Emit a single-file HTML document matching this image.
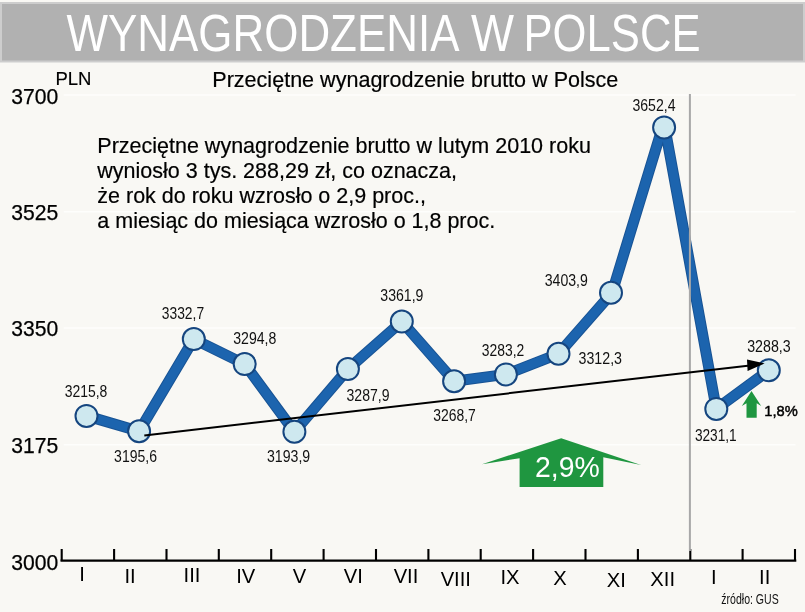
<!DOCTYPE html>
<html><head><meta charset="utf-8"><title>Wynagrodzenia w Polsce</title>
<style>html,body{margin:0;padding:0;background:#f9f8f4}svg{display:block;will-change:transform}text{font-family:"Liberation Sans",sans-serif}</style></head><body>
<svg width="805" height="612" viewBox="0 0 805 612">
<rect width="805" height="612" fill="#f9f8f4"/>
<rect x="0" y="2" width="805" height="60.5" fill="#cdcdcd"/>
<rect x="2" y="4" width="801" height="56.5" fill="#b1b1b1"/>
<g font-size="52.3" fill="#fff"><text x="66.5" y="51.4" textLength="393" lengthAdjust="spacingAndGlyphs">WYNAGRODZENIA</text><text x="471" y="51.4" textLength="43" lengthAdjust="spacingAndGlyphs">W</text><text x="523.5" y="51.4" textLength="177" lengthAdjust="spacingAndGlyphs">POLSCE</text></g>
<line x1="63.8" x2="795.5" y1="94.9" y2="94.9" stroke="#fefefc" stroke-width="1.5"/>
<line x1="63.8" x2="795.5" y1="211.8" y2="211.8" stroke="#fefefc" stroke-width="1.5"/>
<line x1="63.8" x2="795.5" y1="328.0" y2="328.0" stroke="#fefefc" stroke-width="1.5"/>
<line x1="63.8" x2="795.5" y1="444.8" y2="444.8" stroke="#fefefc" stroke-width="1.5"/>
<text x="55.4" y="85" font-size="18.5" fill="#000" stroke="#000" stroke-width="0.15" textLength="36" lengthAdjust="spacingAndGlyphs">PLN</text>
<text x="212.3" y="86.5" font-size="21.45" fill="#000" stroke="#000" stroke-width="0.2" textLength="406" lengthAdjust="spacingAndGlyphs">Przeciętne wynagrodzenie brutto w Polsce</text>
<text x="97.3" y="152.8" font-size="21.5" fill="#000" stroke="#000" stroke-width="0.2">Przeciętne wynagrodzenie brutto w lutym 2010 roku</text>
<text x="97.3" y="177.7" font-size="21.5" fill="#000" stroke="#000" stroke-width="0.2">wyniosło 3 tys. 288,29 zł, co oznacza,</text>
<text x="97.3" y="203.0" font-size="21.5" fill="#000" stroke="#000" stroke-width="0.2">że rok do roku wzrosło o 2,9 proc.,</text>
<text x="97.3" y="228.3" font-size="21.5" fill="#000" stroke="#000" stroke-width="0.2">a miesiąc do miesiąca wzrosło o 1,8 proc.</text>
<text x="11.3" y="103.6" font-size="21.4" fill="#000" stroke="#000" stroke-width="0.25" textLength="47" lengthAdjust="spacingAndGlyphs">3700</text>
<text x="11.3" y="219.7" font-size="21.4" fill="#000" stroke="#000" stroke-width="0.25" textLength="47" lengthAdjust="spacingAndGlyphs">3525</text>
<text x="11.3" y="335.9" font-size="21.4" fill="#000" stroke="#000" stroke-width="0.25" textLength="47" lengthAdjust="spacingAndGlyphs">3350</text>
<text x="11.3" y="452.8" font-size="21.4" fill="#000" stroke="#000" stroke-width="0.25" textLength="47" lengthAdjust="spacingAndGlyphs">3175</text>
<text x="11.3" y="570.0" font-size="21.4" fill="#000" stroke="#000" stroke-width="0.25" textLength="47" lengthAdjust="spacingAndGlyphs">3000</text>
<line x1="60.5" x2="796.3" y1="560.6" y2="560.6" stroke="#000" stroke-width="2.1"/>
<line x1="61.7" x2="61.7" y1="549" y2="560.6" stroke="#000" stroke-width="2.1"/>
<line x1="114.1" x2="114.1" y1="549" y2="560.6" stroke="#000" stroke-width="2.1"/>
<line x1="166.5" x2="166.5" y1="549" y2="560.6" stroke="#000" stroke-width="2.1"/>
<line x1="218.8" x2="218.8" y1="549" y2="560.6" stroke="#000" stroke-width="2.1"/>
<line x1="271.2" x2="271.2" y1="549" y2="560.6" stroke="#000" stroke-width="2.1"/>
<line x1="323.6" x2="323.6" y1="549" y2="560.6" stroke="#000" stroke-width="2.1"/>
<line x1="376.0" x2="376.0" y1="549" y2="560.6" stroke="#000" stroke-width="2.1"/>
<line x1="428.4" x2="428.4" y1="549" y2="560.6" stroke="#000" stroke-width="2.1"/>
<line x1="480.7" x2="480.7" y1="549" y2="560.6" stroke="#000" stroke-width="2.1"/>
<line x1="533.1" x2="533.1" y1="549" y2="560.6" stroke="#000" stroke-width="2.1"/>
<line x1="585.5" x2="585.5" y1="549" y2="560.6" stroke="#000" stroke-width="2.1"/>
<line x1="637.9" x2="637.9" y1="549" y2="560.6" stroke="#000" stroke-width="2.1"/>
<line x1="690.3" x2="690.3" y1="549" y2="560.6" stroke="#000" stroke-width="2.1"/>
<line x1="742.6" x2="742.6" y1="549" y2="560.6" stroke="#000" stroke-width="2.1"/>
<line x1="795.0" x2="795.0" y1="549" y2="560.6" stroke="#000" stroke-width="2.1"/>
<text x="82.0" y="580.6" font-size="20.2" fill="#000" text-anchor="middle">I</text>
<text x="130.0" y="582.8" font-size="20.2" fill="#000" text-anchor="middle">II</text>
<text x="192.0" y="581.5" font-size="20.2" fill="#000" text-anchor="middle">III</text>
<text x="245.8" y="583.1" font-size="20.2" fill="#000" text-anchor="middle">IV</text>
<text x="299.5" y="582.8" font-size="20.2" fill="#000" text-anchor="middle">V</text>
<text x="353.3" y="583.2" font-size="20.2" fill="#000" text-anchor="middle">VI</text>
<text x="406.0" y="583.1" font-size="20.2" fill="#000" text-anchor="middle">VII</text>
<text x="455.8" y="585.6" font-size="20.2" fill="#000" text-anchor="middle">VIII</text>
<text x="510.0" y="583.6" font-size="20.2" fill="#000" text-anchor="middle">IX</text>
<text x="560.0" y="585.0" font-size="20.2" fill="#000" text-anchor="middle">X</text>
<text x="616.4" y="586.6" font-size="20.2" fill="#000" text-anchor="middle">XI</text>
<text x="662.7" y="585.6" font-size="20.2" fill="#000" text-anchor="middle">XII</text>
<text x="713.8" y="584.0" font-size="20.2" fill="#000" text-anchor="middle">I</text>
<text x="764.7" y="584.0" font-size="20.2" fill="#000" text-anchor="middle">II</text>
<polyline fill="none" stroke="#185394" stroke-width="11" stroke-linejoin="round" stroke-linecap="round" points="86.5,415.9 139.1,431.2 193.8,339.1 244.7,364.1 294.4,431.8 347.9,369.1 401.8,321.5 454.1,381.2 505.9,374.4 558.5,353.8 612.0,292.8 662.4,127.4 664.9,127.4 716.3,408.9 768.8,370.3"/>
<polyline fill="none" stroke="#1c64ae" stroke-width="9" stroke-linejoin="round" stroke-linecap="round" points="86.5,415.9 139.1,431.2 193.8,339.1 244.7,364.1 294.4,431.8 347.9,369.1 401.8,321.5 454.1,381.2 505.9,374.4 558.5,353.8 612.0,292.8 662.4,127.4 664.9,127.4 716.3,408.9 768.8,370.3"/>
<line x1="689.9" x2="689.9" y1="94" y2="551" stroke="#a8a8a8" stroke-width="2"/>
<circle cx="86.5" cy="415.9" r="11" fill="#cee8ef" stroke="#15457f" stroke-width="2"/>
<circle cx="139.1" cy="431.2" r="11" fill="#cee8ef" stroke="#15457f" stroke-width="2"/>
<circle cx="193.8" cy="339.1" r="11" fill="#cee8ef" stroke="#15457f" stroke-width="2"/>
<circle cx="244.7" cy="364.1" r="11" fill="#cee8ef" stroke="#15457f" stroke-width="2"/>
<circle cx="294.4" cy="431.8" r="11" fill="#cee8ef" stroke="#15457f" stroke-width="2"/>
<circle cx="347.9" cy="369.1" r="11" fill="#cee8ef" stroke="#15457f" stroke-width="2"/>
<circle cx="401.8" cy="321.5" r="11" fill="#cee8ef" stroke="#15457f" stroke-width="2"/>
<circle cx="454.1" cy="381.2" r="11" fill="#cee8ef" stroke="#15457f" stroke-width="2"/>
<circle cx="505.9" cy="374.4" r="11" fill="#cee8ef" stroke="#15457f" stroke-width="2"/>
<circle cx="558.5" cy="353.8" r="11" fill="#cee8ef" stroke="#15457f" stroke-width="2"/>
<circle cx="611.0" cy="292.8" r="11" fill="#cee8ef" stroke="#15457f" stroke-width="2"/>
<circle cx="664.1" cy="127.4" r="11" fill="#cee8ef" stroke="#15457f" stroke-width="2"/>
<circle cx="716.3" cy="408.9" r="11" fill="#cee8ef" stroke="#15457f" stroke-width="2"/>
<circle cx="768.8" cy="370.3" r="11" fill="#cee8ef" stroke="#15457f" stroke-width="2"/>
<line x1="144.3" y1="435.4" x2="750" y2="365.4" stroke="#000" stroke-width="2"/>
<polygon points="764.6,363.4 747,359.4 747.6,371" fill="#000"/>
<text x="64.7" y="396.9" font-size="17.4" fill="#111" textLength="42.7" lengthAdjust="spacingAndGlyphs">3215,8</text>
<text x="114.1" y="462.4" font-size="17.4" fill="#111" textLength="42.9" lengthAdjust="spacingAndGlyphs">3195,6</text>
<text x="161.8" y="319.2" font-size="17.4" fill="#111" textLength="42.3" lengthAdjust="spacingAndGlyphs">3332,7</text>
<text x="233.2" y="343.9" font-size="17.4" fill="#111" textLength="43.2" lengthAdjust="spacingAndGlyphs">3294,8</text>
<text x="267.0" y="462.4" font-size="17.4" fill="#111" textLength="43.2" lengthAdjust="spacingAndGlyphs">3193,9</text>
<text x="346.5" y="400.7" font-size="17.4" fill="#111" textLength="43.0" lengthAdjust="spacingAndGlyphs">3287,9</text>
<text x="380.3" y="300.7" font-size="17.4" fill="#111" textLength="43.1" lengthAdjust="spacingAndGlyphs">3361,9</text>
<text x="433.2" y="421.3" font-size="17.4" fill="#111" textLength="42.6" lengthAdjust="spacingAndGlyphs">3268,7</text>
<text x="481.8" y="355.7" font-size="17.4" fill="#111" textLength="42.5" lengthAdjust="spacingAndGlyphs">3283,2</text>
<text x="578.5" y="364.2" font-size="17.4" fill="#111" textLength="43.5" lengthAdjust="spacingAndGlyphs">3312,3</text>
<text x="544.7" y="285.7" font-size="17.4" fill="#111" textLength="43.2" lengthAdjust="spacingAndGlyphs">3403,9</text>
<text x="632.4" y="111.0" font-size="17.4" fill="#111" textLength="43.1" lengthAdjust="spacingAndGlyphs">3652,4</text>
<text x="694.9" y="440.6" font-size="17.4" fill="#111" textLength="41.8" lengthAdjust="spacingAndGlyphs">3231,1</text>
<text x="747.2" y="351.7" font-size="17.4" fill="#111" textLength="43.5" lengthAdjust="spacingAndGlyphs">3288,3</text>
<polygon points="561.2,438.2 641,465 603.3,457.2 603.3,487.1 519.6,487.1 519.6,458.2 482,464.3" fill="#1f9640"/>
<text x="535" y="476.6" font-size="29.2" fill="#fff" textLength="64.8" lengthAdjust="spacingAndGlyphs">2,9%</text>
<polygon points="751.5,391 761.2,406 756.7,403.2 756.7,417.8 746.5,417.8 746.5,403.2 741.8,406" fill="#1f9640"/>
<text x="764.3" y="415.9" font-size="14.6" fill="#000" stroke="#000" stroke-width="0.45" textLength="33.4" lengthAdjust="spacingAndGlyphs">1,8%</text>
<text x="721.3" y="603.7" font-size="14.5" fill="#111" textLength="57.4" lengthAdjust="spacingAndGlyphs">źródło: GUS</text>
</svg></body></html>
